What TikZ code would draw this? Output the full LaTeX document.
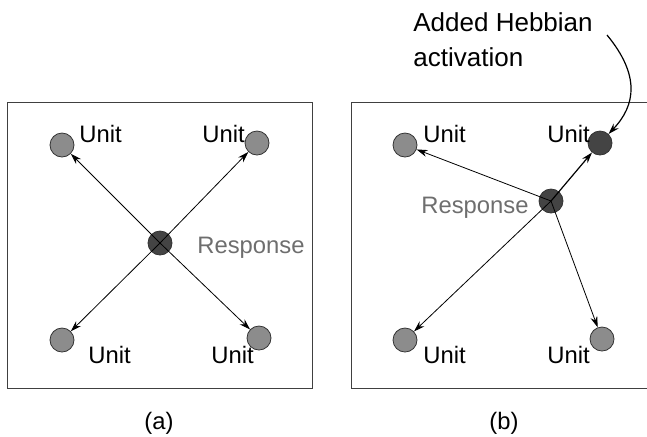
\documentclass[tikz,border=0pt]{standalone}
\usepackage{fontspec}
\setmainfont{Liberation Sans}
\usetikzlibrary{arrows.meta}
\definecolor{unitgray}{HTML}{8C8C8C}
\definecolor{respgray}{HTML}{444444}
\definecolor{labelgray}{HTML}{6E6E6E}
\tikzset{
	unit/.style={circle, draw=black!80, line width=0.4pt, fill=unitgray, minimum size=12pt, inner sep=0pt},
	resp/.style={unit, fill=respgray},
	hebb/.style={unit, fill=respgray},
	lbl/.style={anchor=base west, inner sep=0pt, font=\fontsize{11.9}{14}\selectfont},
	resplbl/.style={lbl, text=labelgray},
	link/.style={line width=0.4pt, -{Stealth[length=5.5pt, width=3.5pt]}},
	panel/.style={draw=black!75, line width=0.5pt}
}

\begin{document}
\begin{tikzpicture}[x=0.5pt, y=-0.5pt]
	\useasboundingbox (0,0) rectangle (647,436);
	
	%%%%% PANEL (a) %%%%%
	
	\draw[panel] (7, 102) rectangle (312, 388);
	
	\node[unit] (ua1) at (62, 145) {};
	\node[unit] (ua2) at (257, 143) {};
	\node[unit] (ua3) at (62, 340) {};
	\node[unit] (ua4) at (259, 338) {};
	\node[resp] (ra) at (160, 243) {};
	
	\node[lbl] (la1) at (79, 142) {Unit};
	\node[lbl] (la2) at (202, 142) {Unit};
	\node[lbl] (la3) at (88, 363) {Unit};
	\node[lbl] (la4) at (211, 363) {Unit};
	\node[resplbl] (lra) at (197, 253) {Response};
	
	\draw[link] (ra.center) -- (ua1);
	\draw[link] (ra.center) -- (ua2);
	\draw[link] (ra.center) -- (ua3);
	\draw[link] (ra.center) -- (ua4);
	
	\node[font=\fontsize{11.9}{14}\selectfont] (capa) at (159, 423) {(a)};
	
	%%%%% PANEL (b) %%%%%
	
	\draw[panel] (351, 102) -- (647, 102);
	\draw[panel] (351, 102) -- (351, 388) -- (647, 388);
	
	\node[unit] (ub1) at (405, 145) {};
	\node[hebb] (ub2) at (600, 143) {};
	\node[unit] (ub3) at (405, 340) {};
	\node[unit] (ub4) at (602, 339) {};
	\node[resp] (rb) at (551, 201) {};
	
	\node[lbl] (lb1) at (423, 142) {Unit};
	\node[lbl] (lb2) at (547, 142) {Unit};
	\node[lbl] (lb3) at (423, 363) {Unit};
	\node[lbl] (lb4) at (547, 363) {Unit};
	\node[resplbl] (lrb) at (421, 213) {Response};
	
	\draw[link] (rb.center) -- (ub1);
	\draw[link, line width=0.6pt] (rb.center) -- (ub2);
	\draw[link] (rb.center) -- (ub3);
	\draw[link] (rb.center) -- (ub4);
	
	\node[lbl, font=\fontsize{13}{15}\selectfont] (hebbtxt) at (413, 31) {Added Hebbian};
	\node[lbl, font=\fontsize{13}{15}\selectfont] (hebbtxt2) at (413, 66) {activation};
	\coordinate (hstart) at (607, 35);
	\draw[link, line width=0.6pt] (hstart) .. controls (640, 75) and (636, 105) .. (ub2);
	
	\node[font=\fontsize{11.9}{14}\selectfont] (capb) at (504, 423) {(b)};
	
\end{tikzpicture}
\end{document}
